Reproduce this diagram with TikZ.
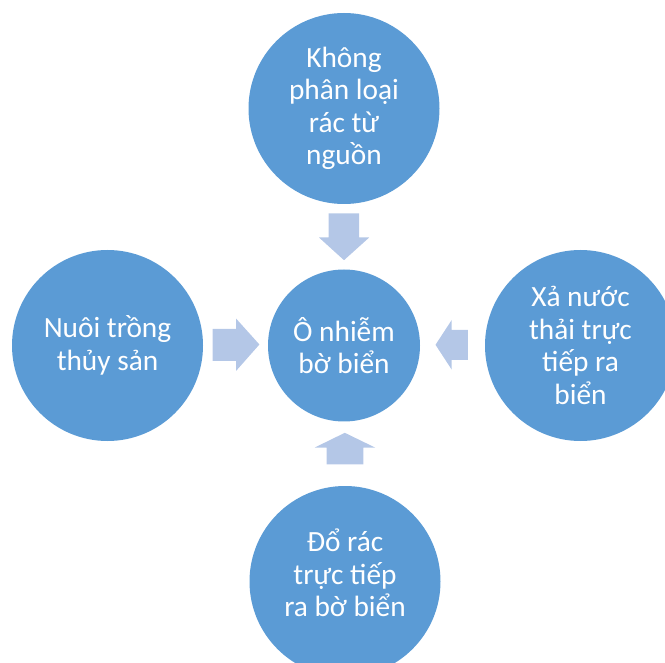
\documentclass[tikz,border=0pt]{standalone}
\usepackage{fontspec}
\setmainfont{Carlito}
\definecolor{bubblefill}{HTML}{5B9BD5}
\definecolor{arrowfill}{HTML}{B4C7E7}
\tikzset{
    bubbletext/.style={text=white, align=center, inner sep=0pt, font=\fontsize{22}{24.4}\selectfont},
    bubble/.style={circle, fill=bubblefill, bubbletext, minimum size=143.25pt},
    hub/.style={bubble, minimum size=114pt},
    blockarrow/.style={fill=arrowfill}
}
\begin{document}
\begin{tikzpicture}[x=0.75pt,y=-0.75pt]
        \useasboundingbox (0,0) rectangle (665,663);
        \clip (0,0) rectangle (665,663);

        % bubbles
        \node[hub] (coast) at (344,345.5){Ô nhiễm\\bờ biển};
        \node[bubble] (sorting) at (344,108.5){Không\\phân loại\\rác từ\\nguồn};
        \node[bubble] (farming) at (107.5,345.5){Nuôi trồng\\thủy sản};
        \node[bubble] (sewage) at (580.5,345.5){Xả nước\\thải trực\\tiếp ra\\biển};
        \node[bubble] (dumping) at (345,581.5){};
        \node[bubbletext] (dumpingtext) at (345,573){Đổ rác\\trực tiếp\\ra bờ biển};

        % block arrows
        \fill[blockarrow](328.5,213.5) -- (359.2,213.5) -- (359.2,237.5) -- (369.2,237.5) -- (344,260.2) -- (319,237.5) -- (328.5,237.5) -- cycle;
        \fill[blockarrow](326.7,464.4) -- (363.3,464.4) -- (363.3,447.5) -- (375,447.5) -- (344.8,432.8) -- (314.8,447.5) -- (326.7,447.5) -- cycle;
        \fill[blockarrow](212.5,329) -- (236,329) -- (236,318.5) -- (259.4,344.5) -- (236,371) -- (236,360.8) -- (212.5,360.8) -- cycle;
        \fill[blockarrow](467.8,330) -- (451.7,330) -- (451.7,320) -- (435.5,344.8) -- (451.7,369.6) -- (451.7,359.8) -- (467.8,359.8) -- cycle;

\end{tikzpicture}
\end{document}
